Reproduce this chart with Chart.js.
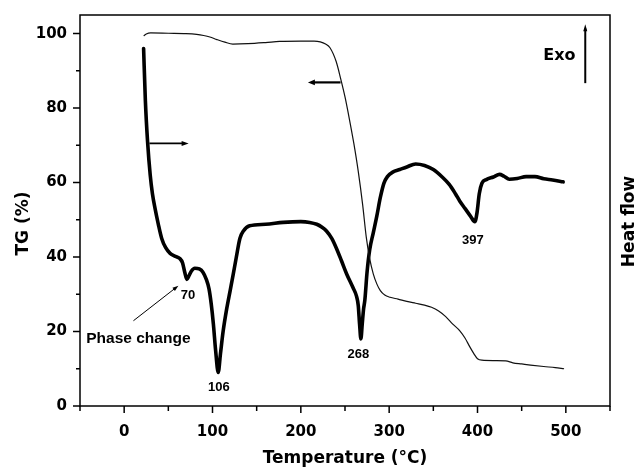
<!DOCTYPE html>
<html><head><meta charset="utf-8">
<script src="https://cdn.jsdelivr.net/npm/chart.js@4.4.1/dist/chart.umd.min.js"></script>
<style>html,body{margin:0;padding:0;background:#fff;}#wrap{width:635px;height:469px;}</style>
</head><body><div id="wrap"><canvas id="c" width="635" height="469"></canvas></div>
<script>
// TG curve (thin line), temperature in °C and mass in %
const tgTemp  = [22, 25, 30, 50, 70, 82, 90, 97, 105, 114, 123, 140, 160, 176, 200, 215, 222, 228, 233, 240, 245, 250, 255, 260, 265, 270, 274, 278, 282, 286, 290, 295, 301, 310, 320, 330, 340, 348, 356, 364, 372, 380, 386, 391, 396, 400, 405, 420, 432, 440, 450, 460, 475, 488, 498];
const tgValue = [99.4, 99.9, 100.2, 100.1, 100, 99.8, 99.5, 99.1, 98.4, 97.7, 97.2, 97.3, 97.6, 97.9, 98, 98, 97.8, 97.2, 96.2, 92.5, 88, 83, 77, 70.5, 63, 54, 45.5, 39.5, 35.5, 32.8, 31, 29.8, 29.2, 28.7, 28.1, 27.6, 27.1, 26.5, 25.5, 24, 22, 20.2, 18.2, 16, 14, 12.7, 12.3, 12.2, 12.1, 11.6, 11.3, 11.0, 10.6, 10.3, 10.0];
// DSC curve (thick line), heat flow drawn on the same vertical scale
const dscTemp  = [22, 24, 26.5, 29.5, 32, 35, 38.5, 42.5, 47, 52, 58, 63, 66, 68.5, 71, 73, 76, 80, 85, 89, 93, 96, 98.5, 101, 103.5, 106.5, 109, 112, 116, 120, 123.5, 127, 131, 135, 142, 160, 180, 200, 210, 218, 224, 229, 235, 240, 246, 252, 259, 263, 265, 266.5, 268, 269.5, 271, 272.5, 275, 278, 282, 286, 290, 294, 298, 304, 312, 320, 330, 340, 350, 360, 368, 375, 380, 386, 392, 397, 399.5, 402, 405, 410, 418, 425, 430, 436, 445, 455, 465, 475, 485, 497];
const dscValue = [96, 82, 71, 62, 57, 53, 49, 45, 42.5, 41, 40.2, 39.6, 38.5, 36, 34, 34.8, 36.2, 37, 36.8, 36, 34, 31.5, 27.5, 22, 15, 9, 14, 20, 26, 31, 35.4, 40, 45, 47, 48.4, 48.8, 49.3, 49.5, 49.3, 48.8, 48, 47, 45, 42.5, 39, 35.4, 31.8, 29.5, 27, 22, 18, 22, 26, 28.5, 36, 42, 46.5, 51, 56, 59.8, 61.6, 62.8, 63.5, 64.2, 65, 64.6, 63.5, 61.5, 59.5, 57, 55, 53, 51, 49.5, 52, 57, 59.8, 60.8, 61.5, 62.2, 61.7, 60.9, 61.1, 61.6, 61.6, 61, 60.7, 60.2];
// tick labels
const xMajorTicks = [0, 100, 200, 300, 400, 500];
const yMajorTicks = [0, 20, 40, 60, 80, 100];
// peak labels
const peakLabels = ['70', '106', '268', '397'];

const peakLabelPos = [[72.3, 28.7], [107.3, 4.0], [265.2, 12.8], [394.7, 43.5]];

function pts(xs, ys) { return xs.map((v, i) => ({x: v, y: ys[i]})); }

function arrow(ctx, x1, y1, x2, y2, w, hl, hw) {
  const ang = Math.atan2(y2 - y1, x2 - x1);
  ctx.lineWidth = w;
  ctx.beginPath(); ctx.moveTo(x1, y1);
  ctx.lineTo(x2 - Math.cos(ang) * hl * 0.6, y2 - Math.sin(ang) * hl * 0.6); ctx.stroke();
  ctx.beginPath();
  ctx.moveTo(x2, y2);
  ctx.lineTo(x2 - Math.cos(ang) * hl - Math.sin(ang) * hw, y2 - Math.sin(ang) * hl + Math.cos(ang) * hw);
  ctx.lineTo(x2 - Math.cos(ang) * hl + Math.sin(ang) * hw, y2 - Math.sin(ang) * hl - Math.cos(ang) * hw);
  ctx.closePath(); ctx.fill();
}

const decor = {
  id: 'decor',
  afterDraw(chart) {
    const {ctx, chartArea: a, scales: {x, y}} = chart;
    ctx.save();
    ctx.strokeStyle = '#000'; ctx.fillStyle = '#000';
    ctx.lineWidth = 1.5;
    ctx.strokeRect(a.left, a.top, a.right - a.left, a.bottom - a.top);
    ctx.beginPath();
    x.ticks.forEach(t => {
      const px = x.getPixelForValue(t.value);
      const len = xMajorTicks.includes(t.value) ? 7 : 5;
      ctx.moveTo(px, a.bottom); ctx.lineTo(px, a.bottom + len);
    });
    y.ticks.forEach(t => {
      const py = y.getPixelForValue(t.value);
      const len = yMajorTicks.includes(t.value) ? 7 : 4;
      ctx.moveTo(a.left, py); ctx.lineTo(a.left - len, py);
    });
    ctx.stroke();

    const P = (tx, v) => [x.getPixelForValue(tx), y.getPixelForValue(v)];
    // arrows
    let p1 = P(28.6, 70.5), p2 = P(73, 70.5);
    arrow(ctx, p1[0], p1[1], p2[0], p2[1], 1.8, 7, 2.5);
    p1 = P(245, 86.9); p2 = P(208, 86.9);
    arrow(ctx, p1[0], p1[1], p2[0], p2[1], 2.2, 7, 2.8);
    p1 = P(522, 86.7); p2 = P(522, 102.5);
    arrow(ctx, p1[0], p1[1], p2[0], p2[1], 2, 7, 2);
    p1 = P(10.5, 22.9); p2 = P(61.4, 32.3);
    arrow(ctx, p1[0], p1[1], p2[0], p2[1], 1, 6, 2);

    // peak labels
    ctx.font = 'bold 13px "Liberation Sans", Arial, sans-serif';
    ctx.textAlign = 'center'; ctx.textBaseline = 'alphabetic';
    peakLabels.forEach((s, i) => {
      const p = P(peakLabelPos[i][0], peakLabelPos[i][1]);
      ctx.fillText(s, p[0], p[1]);
    });
    ctx.font = 'bold 15.5px "Liberation Sans", Arial, sans-serif';
    ctx.textAlign = 'left';
    let p = P(-42.9, 16.9);
    ctx.fillText('Phase change', p[0], p[1]);
    ctx.font = 'bold 16px "DejaVu Sans", sans-serif';
    ctx.textAlign = 'center';
    p = P(492.7, 93);
    ctx.fillText('Exo', p[0], p[1]);

    // axis titles
    ctx.font = 'bold 17px "DejaVu Sans", sans-serif';
    ctx.textAlign = 'center'; ctx.textBaseline = 'middle';
    ctx.fillText('Temperature (°C)', (a.left + a.right) / 2, 459);
    ctx.save(); ctx.translate(24, (a.top + a.bottom) / 2 + 13); ctx.rotate(-Math.PI / 2);
    ctx.fillText('TG (%)', 0, 0); ctx.restore();
    ctx.save(); ctx.translate(a.right + 18, (a.top + a.bottom) / 2 + 11); ctx.rotate(-Math.PI / 2);
    ctx.textBaseline = 'alphabetic';
    ctx.fillText('Heat flow', 0, 6); ctx.restore();
    ctx.restore();
  }
};

const tickFont = {family: '"DejaVu Sans", sans-serif', weight: 'bold', size: 15};

new Chart(document.getElementById('c'), {
  type: 'scatter',
  data: {
    datasets: [
      {label: 'TG', data: pts(tgTemp, tgValue), showLine: true, borderColor: '#111', borderWidth: 1.2, pointRadius: 0, cubicInterpolationMode: 'monotone', yAxisID: 'y'},
      {label: 'Heat flow', data: pts(dscTemp, dscValue), showLine: true, borderColor: '#000', borderWidth: 3.6, pointRadius: 0, cubicInterpolationMode: 'monotone', borderJoinStyle: 'round', borderCapStyle: 'round', yAxisID: 'y'}
    ]
  },
  options: {
    responsive: false, animation: false, devicePixelRatio: 1,
    layout: {padding: {top: 14, left: 0, right: 0, bottom: 0}},
    plugins: {legend: {display: false}, tooltip: {enabled: false}},
    scales: {
      x: {type: 'linear', position: 'bottom', min: -50, max: 550,
        ticks: {stepSize: 50, autoSkip: false, maxRotation: 0, padding: 10, color: '#000', font: tickFont,
          callback: v => xMajorTicks.includes(v) ? String(v) : ''},
        grid: {display: true, drawOnChartArea: false, drawTicks: true, tickLength: 7, color: 'rgba(0,0,0,0)', tickColor: 'rgba(0,0,0,0)'},
        border: {display: false},
        afterFit: s => { s.height = 63; }
      },
      y: {type: 'linear', position: 'left', min: 0, max: 105,
        ticks: {stepSize: 10, includeBounds: false, autoSkip: false, padding: 6, color: '#000', font: tickFont,
          callback: v => yMajorTicks.includes(v) ? String(v) : ''},
        grid: {display: true, drawOnChartArea: false, drawTicks: true, tickLength: 7, color: 'rgba(0,0,0,0)', tickColor: 'rgba(0,0,0,0)'},
        border: {display: false},
        afterFit: s => { s.width = 80; }
      },
      y2: {type: 'linear', position: 'right', min: 0, max: 105,
        ticks: {display: false}, grid: {display: false}, border: {display: false},
        afterFit: s => { s.width = 25; }
      }
    }
  },
  plugins: [decor]
});
</script>
</body></html>
